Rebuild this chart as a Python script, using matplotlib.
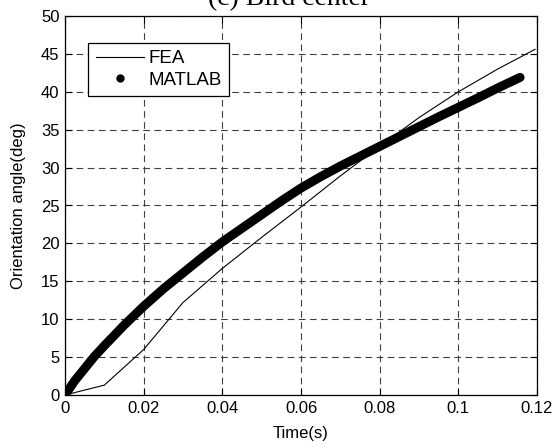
import numpy as np
import matplotlib.pyplot as plt
from matplotlib.lines import Line2D

# FEA result
fea_t = [0, 0.01, 0.02, 0.03, 0.04, 0.05, 0.06, 0.07, 0.08, 0.09, 0.10, 0.11, 0.1195]
fea_a = [0, 1.3, 6.0, 12.2, 16.7, 20.8, 24.8, 28.9, 32.8, 36.6, 40.0, 43.0, 45.6]

# MATLAB result (dense dots in the original)
mat_t = [0, 0.0025, 0.005, 0.0075, 0.01, 0.015, 0.02, 0.025, 0.03, 0.035, 0.04,
         0.045, 0.05, 0.055, 0.06, 0.065, 0.07, 0.075, 0.08, 0.085, 0.09,
         0.095, 0.10, 0.105, 0.11, 0.1157]
mat_a = [0, 1.9, 3.5, 5.1, 6.5, 9.2, 11.7, 14.0, 16.1, 18.2, 20.2,
         22.0, 23.8, 25.6, 27.3, 28.8, 30.2, 31.5, 32.8, 34.1, 35.4,
         36.7, 37.95, 39.2, 40.5, 41.9]

xticks = [0, 0.02, 0.04, 0.06, 0.08, 0.1, 0.12]
xticklabels = ['0', '0.02', '0.04', '0.06', '0.08', '0.1', '0.12']
yticks = [0, 5, 10, 15, 20, 25, 30, 35, 40, 45, 50]

plt.rcParams['font.family'] = ['Liberation Sans', 'DejaVu Sans']

fig = plt.figure(figsize=(5.58, 4.48), dpi=100)
ax = fig.add_axes([65/558, 1 - 395/448, 472/558, 379/448])

ax.plot(fea_t, fea_a, color='k', linewidth=0.8)
ax.plot(mat_t, mat_a, color='k', linewidth=6.5, solid_capstyle='round',
        solid_joinstyle='round')

ax.set_xlim(0, 0.12)
ax.set_ylim(0, 50)
ax.set_xticks(xticks)
ax.set_xticklabels(xticklabels)
ax.set_yticks(yticks)
ax.tick_params(direction='in', top=True, right=True, labelsize=12, length=5,
               width=0.8, pad=4)
for s in ax.spines.values():
    s.set_linewidth(0.9)
ax.grid(True, color='0.25', linestyle=(0, (6, 4)), linewidth=0.8)

ax.set_xlabel('Time(s)', fontsize=12)
ax.set_ylabel('Orientation angle(deg)', fontsize=12)
ax.xaxis.set_label_coords(0.5, -(426 - 395) / 379)
ax.yaxis.set_label_coords(-(65 - 26) / 472, 0.5)

# legend: MATLAB entry shown as a dot like the original
handles = [Line2D([], [], color='k', linewidth=0.8),
           Line2D([], [], color='k', linestyle='none', marker='.', markersize=10)]
leg = ax.legend(handles, ['FEA', 'MATLAB'], loc='upper left',
                bbox_to_anchor=(0.049, 0.93), borderaxespad=0, fontsize=13.5,
                fancybox=False, framealpha=1, edgecolor='k',
                handlelength=2.6, handletextpad=0.2, borderpad=0.4,
                labelspacing=0.25)
leg.get_frame().set_linewidth(0.9)

# title sits partly above the top edge, as in the source image
fig.text(289/558, 1 - 5/448, '(c) Bird center', ha='center', va='baseline',
         fontsize=20, family=['Liberation Serif'])

fig.savefig('out.png', dpi=100)
